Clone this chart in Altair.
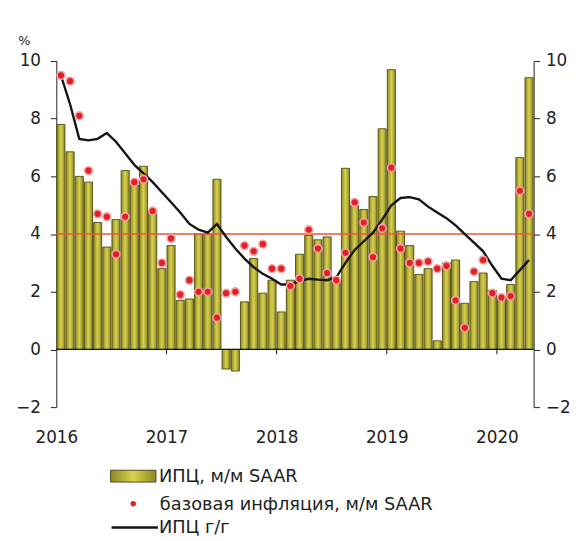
import altair as alt
import pandas as pd

# Monthly data, Jan 2016 .. Apr 2020
cpi_mm = [7.8, 6.85, 6.0, 5.8, 4.4, 3.55, 4.5, 6.2, 5.7, 6.35, 4.8, 2.8,
          3.6, 1.7, 1.75, 4.0, 4.0, 5.9, -0.68, -0.75, 1.65, 3.15, 1.95, 2.4,
          1.3, 2.4, 3.3, 3.95, 3.8, 3.9, 2.4, 6.28, 5.0, 4.85, 5.3, 7.65,
          9.7, 4.1, 3.6, 2.6, 2.8, 0.3, 3.0, 3.1, 1.6, 2.35, 2.65, 2.05,
          1.75, 2.25, 6.65, 9.42]
core_mm = [9.5, 9.3, 8.1, 6.2, 4.7, 4.6, 3.3, 4.6, 5.8, 5.9, 4.8, 3.0,
           3.85, 1.9, 2.4, 2.0, 2.0, 1.1, 1.95, 2.0, 3.6, 3.4, 3.65, 2.8,
           2.8, 2.2, 2.45, 4.15, 3.5, 2.65, 2.4, 3.35, 5.1, 4.4, 3.2, 4.2,
           6.3, 3.5, 3.0, 3.0, 3.05, 2.8, 2.9, 1.7, 0.75, 2.7, 3.1, 1.95,
           1.8, 1.85, 5.5, 4.7]
cpi_yy = [9.5, 8.5, 7.3, 7.25, 7.3, 7.5, 7.2, 6.8, 6.4, 6.1, 5.8, 5.45,
          5.1, 4.75, 4.35, 4.15, 4.05, 4.35, 3.9, 3.5, 3.15, 2.85, 2.62, 2.45,
          2.25, 2.25, 2.38, 2.45, 2.42, 2.4, 2.5, 3.0, 3.45, 3.75, 4.05, 4.5,
          5.0, 5.25, 5.28, 5.2, 4.95, 4.75, 4.55, 4.3, 4.0, 3.7, 3.4, 2.9,
          2.45, 2.4, 2.75, 3.1]
target = [4]
year_ticks = [0, 12, 24, 36, 48]
year_labels = ["2016", "2017", "2018", "2019", "2020"]
y_ticks = [-2, 0, 2, 4, 6, 8, 10]
legend_labels = ["ИПЦ, м/м SAAR", "базовая инфляция, м/м SAAR", "ИПЦ г/г"]

n = len(cpi_mm)
df = pd.DataFrame({
    "m": list(range(n)),
    "cpi": cpi_mm,
    "core": core_mm,
    "yy": cpi_yy,
})
df["x0"] = df["m"] + 0.06
df["x1"] = df["m"] + 0.94
df["xc"] = df["m"] + 0.5
df["base"] = 0.0

FONT = "DejaVu Sans"
TXT = "#222222"

xs = alt.Scale(domain=[0, n], nice=False, zero=False)
ys = alt.Scale(domain=[-2, 10], nice=False, zero=False)

label_expr = "{" + ", ".join(f"'{v}': '{l}'" for v, l in zip(year_ticks, year_labels)) + "}[datum.value]"
xaxis = alt.Axis(values=year_ticks, labelExpr=label_expr, domain=False, ticks=False,
                 grid=False, labelFont=FONT, labelFontSize=17, labelColor=TXT,
                 labelPadding=23, labelFlush=False, title=None)

left_axis = alt.Axis(values=y_ticks, orient="left", title="%", titleAngle=0, titleX=-39,
                     titleY=-21, titleAlign="left", titleBaseline="middle", titleFont=FONT,
                     titleFontSize=13, titleFontWeight="normal", titleColor=TXT,
                     domainColor=TXT, tickColor=TXT, tickSize=6, labelPadding=10,
                     labelFont=FONT, labelFontSize=17, labelColor=TXT, grid=False)
right_axis = alt.Axis(values=y_ticks, orient="right", title=None,
                      domainColor=TXT, tickColor=TXT, tickSize=6, labelPadding=6,
                      labelFont=FONT, labelFontSize=17, labelColor=TXT, grid=False)

bar_grad = alt.Gradient(gradient="linear", x1=0, x2=1, y1=0, y2=0, stops=[
    alt.GradientStop(color="#8d8826", offset=0),
    alt.GradientStop(color="#d9d24e", offset=0.5),
    alt.GradientStop(color="#8d8826", offset=1),
])

base = alt.Chart(df)

bars = base.mark_bar(color=bar_grad, stroke="#4f4c12", strokeWidth=0.9).encode(
    x=alt.X("x0:Q", scale=xs, axis=xaxis),
    x2="x1:Q",
    y=alt.Y("cpi:Q", scale=ys, axis=left_axis),
    y2="base:Q",
)

tdf = pd.DataFrame({"y": target, "xa": [0], "xb": [n]})
target_rule = alt.Chart(tdf).mark_rule(color="#e8563a", strokeWidth=1.5).encode(
    x=alt.X("xa:Q", scale=xs, axis=xaxis), x2="xb:Q",
    y=alt.Y("y:Q", scale=ys, axis=None),
)

zdf = pd.DataFrame({"y": [0], "xa": [0], "xb": [n]})
zero_rule = alt.Chart(zdf).mark_rule(color="#111111", strokeWidth=1.2).encode(
    x=alt.X("xa:Q", scale=xs, axis=xaxis), x2="xb:Q",
    y=alt.Y("y:Q", scale=ys, axis=None),
)

kdf = pd.DataFrame({"x": year_ticks[1:], "ya": [0] * 4, "yb": [-0.17] * 4})
year_tick_marks = alt.Chart(kdf).mark_rule(color="#111111", strokeWidth=1).encode(
    x=alt.X("x:Q", scale=xs, axis=xaxis),
    y=alt.Y("ya:Q", scale=ys, axis=None), y2="yb:Q",
)

line = base.mark_line(color="#151515", strokeWidth=2.4).encode(
    x=alt.X("xc:Q", scale=xs, axis=xaxis),
    y=alt.Y("yy:Q", scale=ys, axis=right_axis),
)

dots = base.mark_circle(color="#e11f26", stroke="#f5a3a3", strokeWidth=1.6,
                        size=62, opacity=1).encode(
    x=alt.X("xc:Q", scale=xs, axis=xaxis),
    y=alt.Y("core:Q", scale=ys, axis=None),
)

one = alt.Chart(pd.DataFrame({"a": [0]}))
leg_swatch = one.mark_rect(color=bar_grad, stroke="#4f4c12", strokeWidth=1).encode(
    x=alt.value(55), x2=alt.value(101), y=alt.value(415), y2=alt.value(427))
leg_dot = one.mark_circle(color="#e11f26", size=30, opacity=1).encode(
    x=alt.value(78), y=alt.value(449))
leg_line = one.mark_rule(color="#151515", strokeWidth=2.6).encode(
    x=alt.value(56), x2=alt.value(103), y=alt.value(473))

def leg_text(label, x, y):
    return one.mark_text(align="left", baseline="middle", font=FONT, fontSize=18,
                         color=TXT).encode(x=alt.value(x), y=alt.value(y),
                                           text=alt.value(label))

chart = alt.layer(
    bars, target_rule, zero_rule, year_tick_marks, line, dots,
    leg_swatch, leg_dot, leg_line,
    leg_text(legend_labels[0], 104, 422),
    leg_text(legend_labels[1], 105, 450),
    leg_text(legend_labels[2], 104, 474),
).resolve_axis(y="independent").properties(
    width=484, height=351,
    autosize=alt.AutoSizeParams(type="none"),
    padding={"left": 49, "top": 50, "right": 46, "bottom": 130},
    background="white",
).configure_view(stroke=None)

chart.save("out.html", embed_options={"renderer": "svg", "actions": False})
